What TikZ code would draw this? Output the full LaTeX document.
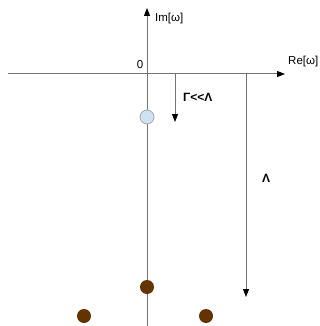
\documentclass[tikz,border=0pt]{standalone}
\usepackage{fontspec}
\setmainfont{Liberation Sans}
\usetikzlibrary{arrows.meta}
\definecolor{poleb}{RGB}{99,51,0}
\definecolor{polel}{RGB}{207,226,243}
\begin{document}
\begin{tikzpicture}[x=1pt,y=-1pt,
  axis/.style={draw=gray!90!black, line width=1pt, -{Triangle[length=8pt,width=6pt,fill=black,color=black]}},
  lbl/.style={font=\fontsize{11.5}{13}\selectfont, inner sep=0pt},
  blbl/.style={font=\fontsize{12}{14}\selectfont\bfseries, inner sep=0pt},
  pole/.style={circle, fill=poleb, draw=none, minimum size=14pt, inner sep=0pt},
  lpole/.style={circle, fill=polel, draw=gray!70, line width=0.8pt, minimum size=14pt, inner sep=0pt}]
\useasboundingbox (0,0) rectangle (320,326);
\coordinate (xs) at (8,74);
\coordinate (xe) at (285,74);
\coordinate (ys) at (147,326);
\coordinate (ye) at (147,8);
\coordinate (a1s) at (175,74);
\coordinate (a1e) at (175,122);
\coordinate (a2s) at (246,74);
\coordinate (a2e) at (246,297);
\draw[axis] (xs) -- (xe);
\draw[axis] (ys) -- (ye);
\draw[axis] (a1s) -- (a1e);
\draw[axis] (a2s) -- (a2e);
\node[lbl, anchor=west] (im) at (155,19) {Im[ω]};
\node[lbl, anchor=west] (re) at (288,62) {Re[ω]};
\node[lbl] (zero) at (140,65) {0};
\node[blbl, anchor=west] (gl) at (183,97) {Γ{<}{<}Λ};
\node[blbl] (lam) at (266,178) {Λ};
\node[lpole] (p0) at (147,117) {};
\node[pole] (p1) at (147,287) {};
\node[pole] (p2) at (84,316) {};
\node[pole] (p3) at (206,316) {};
\end{tikzpicture}
\end{document}
